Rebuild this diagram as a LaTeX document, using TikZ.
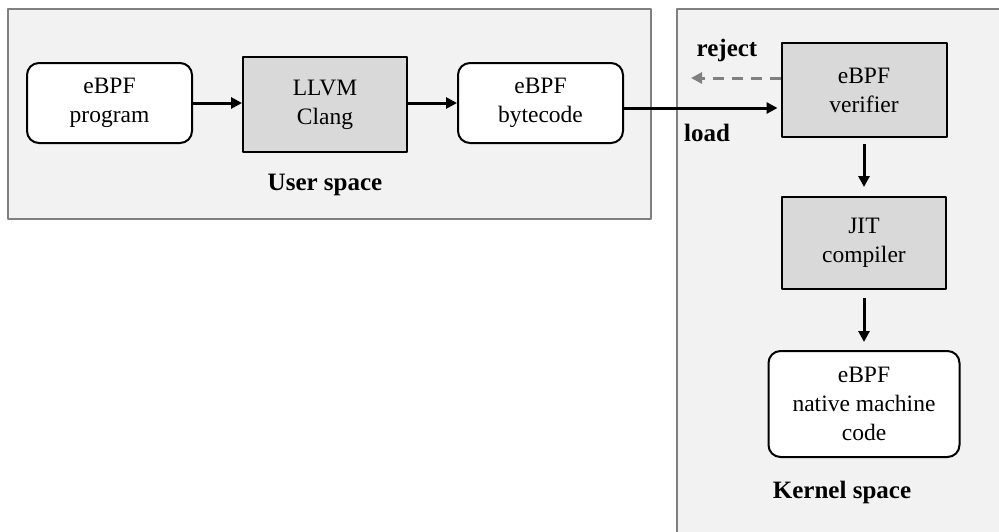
\documentclass[tikz,border=0pt]{standalone}
\usepackage{fontspec}
\setmainfont{Liberation Serif}
\usetikzlibrary{arrows.meta}
\definecolor{spacegray}{HTML}{F2F2F2}
\definecolor{boxgray}{HTML}{D9D9D9}
\definecolor{edgegray}{HTML}{808080}
\begin{document}
\begin{tikzpicture}[x=1pt,y=-1pt,line join=round,>={Triangle[length=11pt,width=11pt]}]
	\tikzset{space/.style={draw=edgegray,fill=spacegray,line width=2pt},
		soft/.style={draw,fill=white,line width=2pt,rounded corners=12pt,align=center,font=\fontsize{23.5}{29}\selectfont,inner sep=0pt},
		hard/.style={draw,fill=boxgray,line width=2pt,align=center,font=\fontsize{23.5}{29}\selectfont,inner sep=0pt},
		arr/.style={->,line width=3pt},
		tag/.style={font=\bfseries\fontsize{25}{29}\selectfont}}
	\useasboundingbox (0,0) rectangle (999,531);
	\begin{scope}
		\clip (0,0) rectangle (999,531);
		\draw[space] (8,9) rectangle (651,219);
		\draw[space] (677,9) rectangle (1020,560);
	\end{scope}
	% user space
	\node[soft,minimum width=165pt,minimum height=80pt] (prog) at (109.5,103) {eBPF\\program};
	\node[hard,minimum width=164pt,minimum height=95pt] (llvm) at (325,104.5) {LLVM\\Clang};
	\node[soft,minimum width=165pt,minimum height=80pt] (byte) at (540.5,103) {eBPF\\bytecode};
	\node[tag] (user) at (325,185) {User space};
	% kernel space
	\node[hard,minimum width=165pt,minimum height=94pt] (verif) at (864,90) {eBPF\\verifier};
	\node[hard,minimum width=164pt,minimum height=92pt] (jit) at (864,243) {JIT\\compiler};
	\node[soft,minimum width=191pt,minimum height=106pt] (native) at (864,404) {eBPF\\native machine\\code};
	\node[tag] (kernel) at (842,492) {Kernel space};
	\node[tag] (rejtxt) at (727,50) {reject};
	\node[tag] (loadtxt) at (707,133) {load};
	\coordinate (rej) at (691,78);
	\draw[arr] (prog.east) -- (prog.east -| llvm.west);
	\draw[arr] (byte.west -| llvm.east) -- (byte.west);
	\draw[arr] ([yshift=-5pt]byte.east) -- ([xshift=-3pt,yshift=-5pt]byte.east -| verif.west);
	\draw[arr,edgegray,dash pattern=on 11pt off 8pt] (verif.west |- rej) -- (rej);
	\draw[arr] ([yshift=-6pt]verif.south) -- ([yshift=9pt]jit.north);
	\draw[arr] ([yshift=-8pt]jit.south) -- ([yshift=8pt]native.north);
\end{tikzpicture}
\end{document}
